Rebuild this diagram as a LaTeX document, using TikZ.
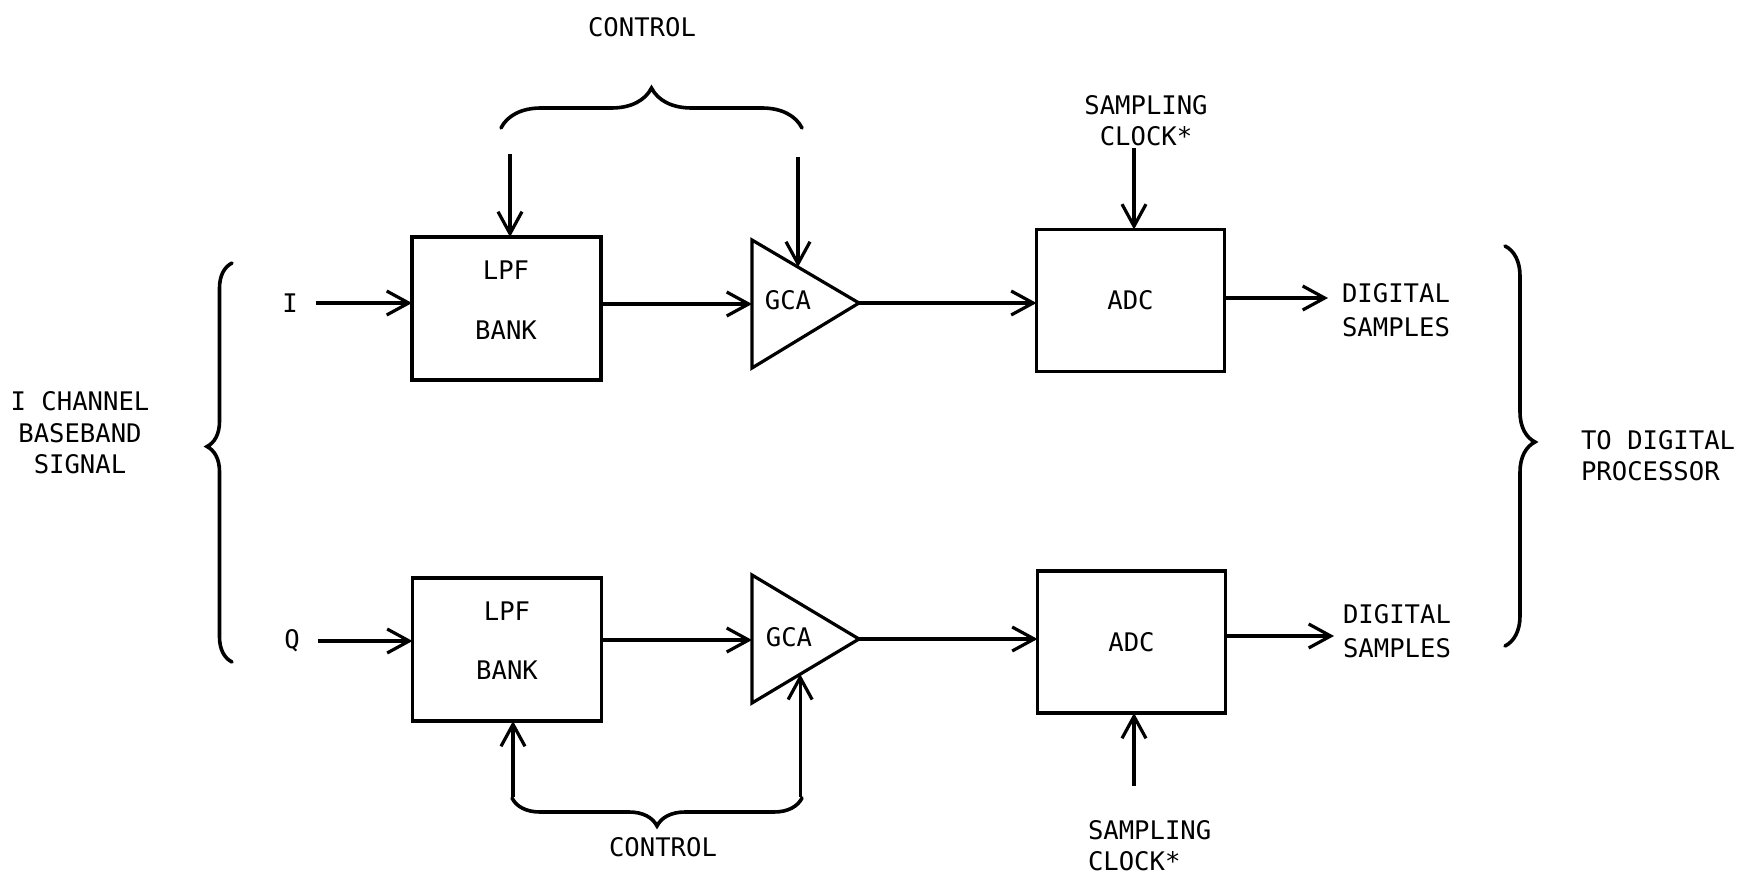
\documentclass[tikz,border=0pt]{standalone}
\usepackage{fontspec}
\newfontfamily\diafont{DejaVu Sans Mono}
\usetikzlibrary{arrows.meta,decorations.pathreplacing,calc}
\tikzset{
  lbl/.style={inner sep=0pt, outer sep=0pt, font=\diafont\fontsize{12.8pt}{15.7pt}\selectfont},
  box/.style={draw, line width=1.7pt, minimum width=94.5pt, minimum height=71.5pt, inner sep=0pt, outer sep=0pt, font=\diafont\fontsize{12.8pt}{15.7pt}\selectfont},
  amp/.style={draw, line width=1.6pt, line join=miter},
  sig/.style={line width=1.6pt, -{Straight Barb[length=11pt,width=12pt,line width=1.6pt]}},
  brc/.style={draw, line width=1.8pt, line cap=round, decorate, decoration={brace, amplitude=#1}},
}
\begin{document}
\begin{tikzpicture}[x=0.5pt,y=-0.5pt]
\useasboundingbox (0,0) rectangle (1746,883);

% ---------- I channel ----------
\node[box] (lpf1) at (506.5,308.5) {};
\node[lbl, align=center] (lpf1t) at (506,300) {LPF\\[14pt]BANK};
\coordinate (g1a) at (752,240);
\coordinate (g1b) at (752,368);
\coordinate (g1t) at (859,303);
\path[amp] (g1a) -- (g1t) -- (g1b) -- cycle;
\node[lbl] (gca1) at (788,300) {GCA};
\coordinate (g1in) at (752,304);
\coordinate (g1c) at ($(g1a)!0.43!(g1t)$);
\node[box, minimum width=94pt, minimum height=71pt] (adc1) at (1130.5,300.5) {ADC};

\node[lbl, inner xsep=9pt] (ilbl) at (290,303) {I};
\draw[sig] (ilbl) -- (lpf1.west |- ilbl);
\draw[sig] (lpf1.east |- g1in) -- (g1in);
\draw[sig] (g1t) -- (adc1.west |- g1t);
\coordinate (d1) at (1328,298);
\draw[sig] (adc1.east |- d1) -- (d1);
\node[lbl, align=center] (dig1) at (1396,310) {DIGITAL\\[1.5pt]SAMPLES};

% control (top)
\coordinate (c1s) at (510,154);
\draw[sig] (c1s) -- (c1s |- lpf1.north);
\coordinate (c2s) at (798,157);
\draw[sig] (g1c |- c2s) -- (g1c);
\coordinate (b1l) at (501,128);
\coordinate (b1r) at (802,128);
\draw[brc=20pt] (b1l) -- (b1r);
\node[lbl] (ctl1) at (642,27) {CONTROL};

% sampling clock (top)
\node[lbl, align=center] (clk1) at (1146,120.5) {SAMPLING\\CLOCK*};
\coordinate (k1) at (1134,148);
\draw[sig] (k1) -- (k1 |- adc1.north);

% ---------- Q channel ----------
\node[box] (lpf2) at (507,649.5) {};
\node[lbl, align=center] (lpf2t) at (507,640.5) {LPF\\[14pt]BANK};
\coordinate (g2a) at (752,575);
\coordinate (g2b) at (752,703);
\coordinate (g2t) at (859,639);
\path[amp] (g2a) -- (g2t) -- (g2b) -- cycle;
\node[lbl] (gca2) at (789,637) {GCA};
\coordinate (g2in) at (752,640);
\coordinate (g2c) at ($(g2b)!0.45!(g2t)$);
\node[box, minimum width=94pt, minimum height=71pt] (adc2) at (1131.5,642) {ADC};

\node[lbl, inner xsep=9pt] (qlbl) at (292,641) {Q};
\draw[sig] (qlbl) -- (lpf2.west |- qlbl);
\draw[sig] (lpf2.east |- g2in) -- (g2in);
\draw[sig] (g2t) -- (adc2.west |- g2t);
\coordinate (d2) at (1334,636);
\draw[sig] (adc2.east |- d2) -- (d2);
\node[lbl, align=center] (dig2) at (1397,631) {DIGITAL\\[1.5pt]SAMPLES};

% control (bottom)
\coordinate (c3s) at (513,797);
\draw[sig] (c3s) -- (c3s |- lpf2.south);
\coordinate (c4s) at (800,797);
\draw[sig] (g2c |- c4s) -- (g2c);
\coordinate (b2r) at (802,798);
\coordinate (b2l) at (512,798);
\draw[brc=14pt] (b2r) -- (b2l);
\node[lbl] (ctl2) at (663,847) {CONTROL};

% sampling clock (bottom)
\node[lbl, align=left, anchor=west] (clk2) at (1088,845.5) {SAMPLING\\CLOCK*};
\coordinate (k2) at (1134,786);
\draw[sig] (k2) -- (k2 |- adc2.south);

% ---------- side braces ----------
\coordinate (lb1) at (232,662);
\coordinate (lb2) at (232,263);
\draw[brc=12.5pt, decoration={aspect=0.54}] (lb1) -- (lb2);
\node[lbl, align=center] (ich) at (80,433) {I CHANNEL\\BASEBAND\\SIGNAL};

\coordinate (rb1) at (1505,246);
\coordinate (rb2) at (1505,646);
\draw[brc=15pt, decoration={aspect=0.49}] (rb1) -- (rb2);
\node[lbl, align=left, anchor=west] (tdp) at (1581,455.5) {TO DIGITAL\\PROCESSOR};
\end{tikzpicture}
\end{document}
